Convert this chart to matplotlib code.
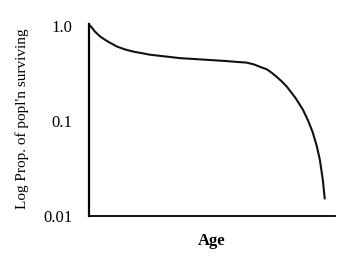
import matplotlib
matplotlib.use("Agg")
import matplotlib.pyplot as plt

# Survivorship curve (age in arbitrary units 0-100)
age = [0, 1, 2.4, 4.5, 6.5, 8.5, 11.4, 14.5, 17.9, 24.8, 37, 49, 55, 60,
       64, 67, 69.5, 72.4, 74.5, 76.5, 78.5, 80.5, 84, 87, 89.2, 91, 92.6,
       93.9, 95.1, 95.9]
surv = [1.04, 0.98, 0.88, 0.78, 0.72, 0.67, 0.61, 0.57, 0.54, 0.50, 0.46,
        0.44, 0.43, 0.42, 0.413, 0.396, 0.373, 0.35, 0.32, 0.29, 0.26,
        0.23, 0.175, 0.132, 0.10, 0.076, 0.055, 0.039, 0.024, 0.015]
yticks = [1.0, 0.1, 0.01]
ytick_labels = ["1.0", "0.1", "0.01"]

plt.rcParams["font.family"] = ["Liberation Serif", "DejaVu Serif"]

fig = plt.figure(figsize=(3.54, 2.60), dpi=100)
ax = fig.add_axes([0.251, 0.169, 0.695, 0.75])
ax.plot(age, surv, color="#111111", lw=1.5, solid_capstyle="butt")
ax.set_yscale("log")
ax.set_ylim(0.01, 1.13)
ax.set_xlim(0, 100)
ax.set_yticks(yticks)
ax.set_yticklabels(ytick_labels, fontsize=12)
ax.minorticks_off()
ax.set_xticks([])
ax.tick_params(axis="y", length=0, pad=12)
for s in ("top", "right"):
    ax.spines[s].set_visible(False)
ax.spines["left"].set_linewidth(1.6)
ax.spines["bottom"].set_linewidth(1.3)
ax.spines["left"].set_bounds(0.01, 1.05)
ax.set_xlabel("Age", fontsize=12, fontweight="bold", labelpad=12)
ax.set_ylabel("Log Prop. of popl'n surviving", fontsize=11, labelpad=10)

fig.savefig("out.png", dpi=100)
